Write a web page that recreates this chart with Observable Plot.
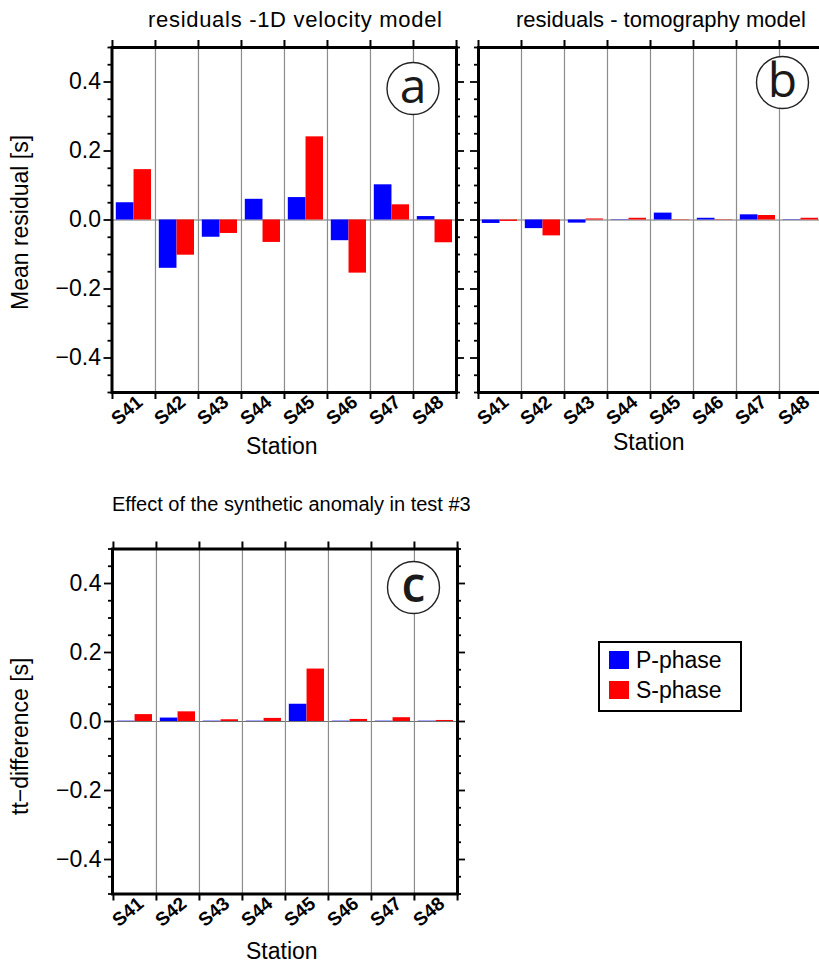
<!DOCTYPE html>
<html>
<head>
<meta charset="utf-8">
<script src="https://cdn.jsdelivr.net/npm/d3@7"></script>
<script src="https://cdn.jsdelivr.net/npm/@observablehq/plot@0.6"></script>
<style>
  html, body { margin: 0; padding: 0; background: #fff; overflow: hidden; }
  #fig { position: relative; width: 819px; height: 965px; overflow: hidden;
         font-family: "Liberation Sans", Arial, Helvetica, sans-serif; color: #000; }
  .abs { position: absolute; white-space: nowrap; line-height: 1; }
  .panel svg { background: transparent !important; max-width: none !important; }
  #legend { position: absolute; left: 598px; top: 641px; width: 140px; height: 67px;
            border: 2px solid #000; background: #fff; }
  .sw { position: absolute; left: 9px; width: 20px; height: 18px; }
  .lt { position: absolute; left: 36px; font-size: 23px; line-height: 1; }
</style>
</head>
<body>
<div id="fig"></div>
<script>
// Stations along the x axis
const stations = ["S41", "S42", "S43", "S44", "S45", "S46", "S47", "S48"];

// Mean residuals [s] with the 1D velocity model
const vel1dP = [0.050, -0.140, -0.050, 0.060, 0.065, -0.060, 0.102, 0.010];
const vel1dS = [0.146, -0.102, -0.039, -0.065, 0.241, -0.154, 0.044, -0.066];

// Mean residuals [s] with the tomography model
const tomoP = [-0.010, -0.025, -0.009, 0.001, 0.020, 0.005, 0.015, 0.001];
const tomoS = [-0.004, -0.046, 0.003, 0.005, -0.001, -0.001, 0.013, 0.005];

// Travel-time difference [s] caused by the synthetic anomaly (test #3)
const synthP = [0.001, 0.010, 0.001, 0.001, 0.050, 0.001, 0.001, 0.001];
const synthS = [0.020, 0.028, 0.005, 0.009, 0.152, 0.006, 0.011, 0.003];

// Y axis ticks
const yDomain = [-0.5, 0.5];
const yMajor = [-0.4, -0.2, 0, 0.2, 0.4];
const yMinor = [-0.5, -0.45, -0.35, -0.3, -0.25, -0.15, -0.1, -0.05,
                0.05, 0.1, 0.15, 0.25, 0.3, 0.35, 0.45, 0.5];

const colorP = "#0000ff";
const colorS = "#ff0000";
const FONT = "Liberation Sans, Arial, Helvetica, sans-serif";

const fig = document.getElementById("fig");

function addText(text, left, top, size, extra = "") {
  const d = document.createElement("div");
  d.className = "abs";
  d.style.cssText = `left:${left}px;top:${top}px;font-size:${size}px;${extra}`;
  d.textContent = text;
  fig.appendChild(d);
  return d;
}

function panel({P, S, left, top, width, height, mt, mb, ml, mr, yLabels, letter, letterDx, letterDy, letterWeight}) {
  const innerW = width - ml - mr;
  const innerH = height - mt - mb;
  const bw = innerW / stations.length;
  const rows = vals => stations.map((s, i) => ({station: s, value: vals[i]}));

  const marks = [
    // zero line and station separators
    Plot.ruleY([0], {stroke: "#707070", strokeWidth: 1}),
    Plot.ruleX(stations.slice(1), {x: d => d, dx: -bw / 2, stroke: "#8c8c8c", strokeWidth: 1.2}),
    // paired bars: P on the left half, S on the right half of each station
    Plot.barY(rows(P), {x: "station", y1: 0, y2: "value", fill: colorP, insetLeft: 3.8, insetRight: bw / 2}),
    Plot.barY(rows(S), {x: "station", y1: 0, y2: "value", fill: colorS, insetLeft: bw / 2, insetRight: 4}),
    // panel letter in a circle
    Plot.dot([letter], {frameAnchor: "top-right", dx: letterDx, dy: letterDy, r: 26,
                        fill: "white", stroke: "#222", strokeWidth: 1.4}),
    Plot.text([letter], {frameAnchor: "top-right", dx: letterDx, dy: letterDy - 1, text: d => d,
                         textAnchor: "middle", lineAnchor: "middle",
                         fontSize: 48, fontFamily: "Open Sans, DejaVu Sans, sans-serif",
                         fontWeight: letterWeight, fill: "#1a1a1a"}),
    // station tick marks on bottom and top borders
    Plot.ruleX(stations, {x: d => d, dx: -bw / 2, insetTop: innerH, insetBottom: -7, stroke: "black", strokeWidth: 2}),
    Plot.ruleX(stations.slice(-1), {x: d => d, dx: bw / 2, insetTop: innerH, insetBottom: -7, stroke: "black", strokeWidth: 2}),
    Plot.ruleX(stations, {x: d => d, dx: -bw / 2, insetTop: -7, insetBottom: innerH, stroke: "black", strokeWidth: 2}),
    Plot.ruleX(stations.slice(-1), {x: d => d, dx: bw / 2, insetTop: -7, insetBottom: innerH, stroke: "black", strokeWidth: 2}),
    // y ticks on left and right borders
    Plot.ruleY(yMinor, {insetLeft: -4, insetRight: innerW, stroke: "black", strokeWidth: 1.8}),
    Plot.ruleY(yMajor, {insetLeft: -8, insetRight: innerW, stroke: "black", strokeWidth: 1.8}),
    Plot.ruleY(yMinor, {insetLeft: innerW, insetRight: -4, stroke: "black", strokeWidth: 1.8}),
    Plot.ruleY(yMajor, {insetLeft: innerW, insetRight: -8, stroke: "black", strokeWidth: 1.8}),
    // rotated station labels
    Plot.axisX({tickSize: 0, tickPadding: 7, tickRotate: -40, dx: 6, fontSize: 19, fontWeight: "bold", label: null}),
    Plot.frame({stroke: "black", strokeWidth: 3})
  ];
  if (yLabels) {
    marks.push(Plot.axisY(yMajor, {tickSize: 0, tickPadding: 11, fontSize: 23, label: null,
                                   tickFormat: d3.format(".1f")}));
  }

  const svg = Plot.plot({
    width, height,
    marginTop: mt, marginBottom: mb, marginLeft: ml, marginRight: mr,
    style: {fontFamily: FONT, background: "transparent", overflow: "visible", maxWidth: "none"},
    x: {type: "band", domain: stations, padding: 0, axis: null},
    y: {domain: yDomain, axis: null},
    marks
  });
  const wrap = document.createElement("div");
  wrap.className = "abs panel";
  wrap.style.left = left + "px";
  wrap.style.top = top + "px";
  wrap.style.width = width + "px";
  wrap.style.height = height + "px";
  wrap.appendChild(svg);
  fig.appendChild(wrap);
}

// (a) 1D velocity model
panel({P: vel1dP, S: vel1dS, left: 0, top: 0, width: 467, height: 470,
       mt: 47, mb: 78, ml: 111.5, mr: 11, yLabels: true,
       letter: "a", letterDx: -43.5, letterDy: 41, letterWeight: 400});
// (b) tomography model
panel({P: tomoP, S: tomoS, left: 467, top: 0, width: 358, height: 470,
       mt: 47, mb: 78, ml: 11, mr: 3, yLabels: false,
       letter: "b", letterDx: -40, letterDy: 35, letterWeight: 400});
// (c) synthetic anomaly effect
panel({P: synthP, S: synthS, left: 0, top: 500, width: 467, height: 470,
       mt: 48.5, mb: 76.5, ml: 112, mr: 10, yLabels: true,
       letter: "c", letterDx: -44, letterDy: 38.5, letterWeight: 600});

// titles
addText("residuals -1D velocity model", 148, 9, 22, "letter-spacing:0.7px;");
addText("residuals - tomography model", 516, 9, 22);
addText("Effect of the synthetic anomaly in test #3", 112, 494, 20);

// x axis titles
addText("Station", 246, 435, 23);
addText("Station", 613, 431, 23);
addText("Station", 246, 940, 23);

// y axis titles (rotated)
addText("Mean residual [s]", 9, 310, 23, "transform-origin:0 0;transform:rotate(-90deg);");
addText("tt\u2212difference [s]", 9, 815, 23, "transform-origin:0 0;transform:rotate(-90deg);");

// legend
const lg = document.createElement("div");
lg.id = "legend";
lg.innerHTML = `
  <div class="sw" style="top:8px;background:${colorP}"></div>
  <div class="lt" style="top:6px">P-phase</div>
  <div class="sw" style="top:38px;background:${colorS}"></div>
  <div class="lt" style="top:36px">S-phase</div>`;
fig.appendChild(lg);
</script>
</body>
</html>
